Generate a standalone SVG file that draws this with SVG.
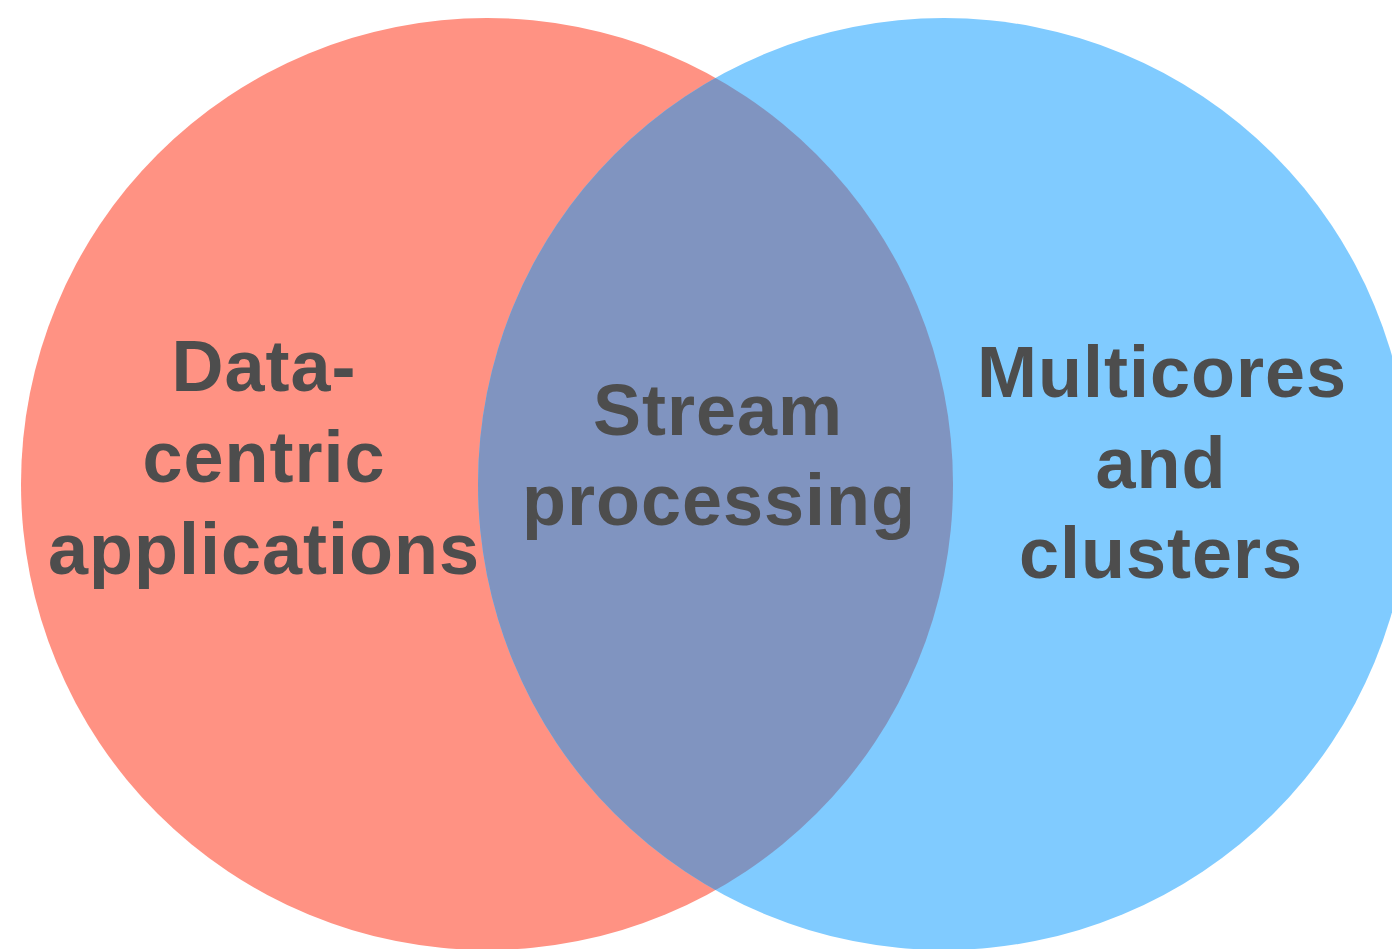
<svg xmlns="http://www.w3.org/2000/svg" width="1392" height="949" viewBox="0 0 1392 949">
  <style>
    .label { font-family: "Liberation Sans", Arial, Helvetica, sans-serif; font-weight: bold; font-size: 72px; fill: #4d4d4d; text-anchor: middle; letter-spacing: 1px; }
  </style>
  <defs>
    <clipPath id="leftClip">
      <circle cx="487" cy="484" r="466"/>
    </clipPath>
  </defs>
  <rect width="1392" height="949" fill="#ffffff"/>
  <g id="set-data-centric">
    <circle cx="487" cy="484" r="466" fill="#ff9283"/>
  </g>
  <g id="set-multicores">
    <circle cx="944" cy="484" r="466" fill="#80cbff"/>
  </g>
  <g id="set-intersection">
    <circle cx="944" cy="484" r="466" fill="#8094c0" clip-path="url(#leftClip)"/>
  </g>
  <g id="connectors"></g>
  <g id="labels">
    <text class="label" x="264" y="391">Data-</text>
    <text class="label" x="264" y="482">centric</text>
    <text class="label" x="264" y="574">applications</text>
    <text class="label" x="718" y="435">Stream</text>
    <text class="label" x="719" y="525">processing</text>
    <text class="label" x="1162" y="397">Multicores</text>
    <text class="label" x="1161" y="488">and</text>
    <text class="label" x="1161" y="578">clusters</text>
  </g>
</svg>
